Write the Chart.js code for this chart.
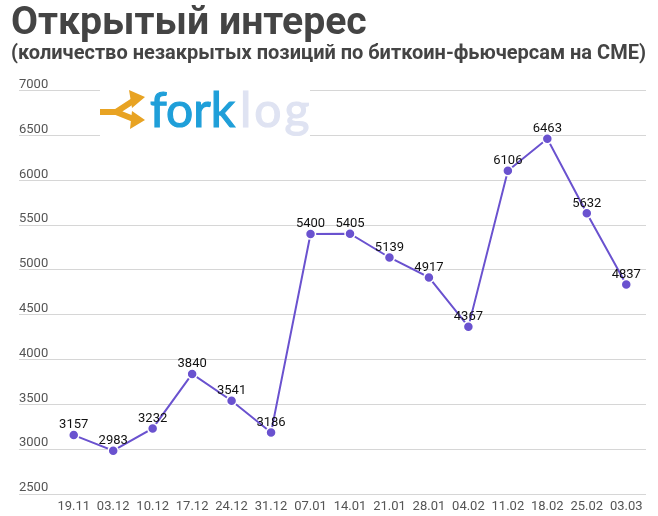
<!DOCTYPE html>
<html lang="ru">
<head>
    <meta charset="UTF-8">
    <title>Открытый интерес</title>
    <script src="https://cdn.jsdelivr.net/npm/chart.js"></script>
    <style>
        html, body { margin: 0; padding: 0; background: #fff; }
        canvas { display: block; }
    </style>
</head>
<body>
    <canvas id="myChart" width="658" height="516"></canvas>
    <script>
        const dates = ['19.11', '03.12', '10.12', '17.12', '24.12', '31.12', '07.01', '14.01', '21.01', '28.01', '04.02', '11.02', '18.02', '25.02', '03.03'];
        const openInterest = [3157, 2983, 3232, 3840, 3541, 3186, 5400, 5405, 5139, 4917, 4367, 6106, 6463, 5632, 4837];
        const yMin = 2500;
        const yMax = 7000;
        const yStep = 500;

        // Value above each point
        const pointLabels = {
            id: 'pointLabels',
            afterDatasetsDraw(chart) {
                const c = chart.ctx;
                c.save();
                c.font = '13px Roboto';
                c.fillStyle = '#111';
                c.textAlign = 'center';
                c.textBaseline = 'middle';
                chart.getDatasetMeta(0).data.forEach((pt, i) => {
                    c.fillText(openInterest[i], pt.x, pt.y - 10);
                });
                c.restore();
            }
        };

        // Forklog watermark, sits on a white patch over the grid
        const logo = {
            id: 'logo',
            afterDatasetsDraw(chart) {
                const c = chart.ctx;
                c.save();
                c.fillStyle = '#fff';
                c.fillRect(100, 85, 210, 56);
                c.strokeStyle = '#e8a323';
                c.fillStyle = '#e8a323';
                c.lineWidth = 6;
                c.beginPath();
                c.moveTo(100, 112);
                c.lineTo(116, 112);
                c.lineTo(136, 99);
                c.moveTo(116, 112);
                c.lineTo(136, 120);
                c.stroke();
                c.beginPath();
                c.moveTo(129, 90); c.lineTo(145, 97); c.lineTo(132, 108); c.closePath();
                c.moveTo(132, 111); c.lineTo(145, 120); c.lineTo(130, 129); c.closePath();
                c.fill();
                c.font = '48px Lato';
                c.textBaseline = 'alphabetic';
                c.lineWidth = 1.2;
                c.fillStyle = c.strokeStyle = '#1f9fd9';
                c.fillText('fork', 150, 127);
                c.strokeText('fork', 150, 127);
                c.fillStyle = c.strokeStyle = '#dfe3f2';
                c.letterSpacing = '3px';
                c.fillText('log', 240, 127);
                c.strokeText('log', 240, 127);
                c.restore();
            }
        };

        const myChart = new Chart(document.getElementById('myChart'), {
            type: 'line',
            data: {
                labels: dates,
                datasets: [{
                    data: openInterest,
                    borderColor: '#6a52cf',
                    backgroundColor: '#6a52cf',
                    borderWidth: 2,
                    pointBorderColor: '#fff',
                    pointBorderWidth: 1.5,
                    pointRadius: 5,
                    pointHoverRadius: 5,
                    tension: 0
                }]
            },
            options: {
                responsive: false,
                animation: false,
                layout: { padding: { left: 11, right: 12, top: 0, bottom: 0 } },
                plugins: {
                    legend: { display: false },
                    tooltip: { enabled: false },
                    title: {
                        display: true,
                        text: 'Открытый интерес',
                        align: 'start',
                        color: '#444',
                        font: { family: 'Roboto', size: 39.2, weight: 'bold', lineHeight: 1 },
                        padding: { top: 5, bottom: 0 }
                    },
                    subtitle: {
                        display: true,
                        text: '(количество незакрытых позиций по биткоин-фьючерсам на CME)',
                        align: 'start',
                        color: '#444',
                        font: { family: 'Roboto', size: 20, weight: 'bold', lineHeight: 1 },
                        padding: { top: 0, bottom: 26.5 }
                    }
                },
                scales: {
                    x: {
                        offset: true,
                        afterFit(scale) { scale.height = 22; },
                        grid: { display: false, drawTicks: false },
                        border: { display: false },
                        ticks: { color: '#555', font: { family: 'Roboto', size: 13 }, maxRotation: 0, autoSkip: false, padding: 5 }
                    },
                    y: {
                        min: yMin,
                        max: yMax,
                        afterFit(scale) { scale.width = 43; },
                        border: { display: false },
                        grid: { color: '#d6d6d6', tickColor: '#d6d6d6', tickLength: 35 },
                        ticks: {
                            stepSize: yStep,
                            color: '#555',
                            font: { family: 'Roboto', size: 13 },
                            mirror: true,
                            padding: -35,
                            labelOffset: -6,
                            callback: value => String(value)
                        }
                    }
                }
            },
            plugins: [pointLabels, logo]
        });
    </script>
</body>
</html>
